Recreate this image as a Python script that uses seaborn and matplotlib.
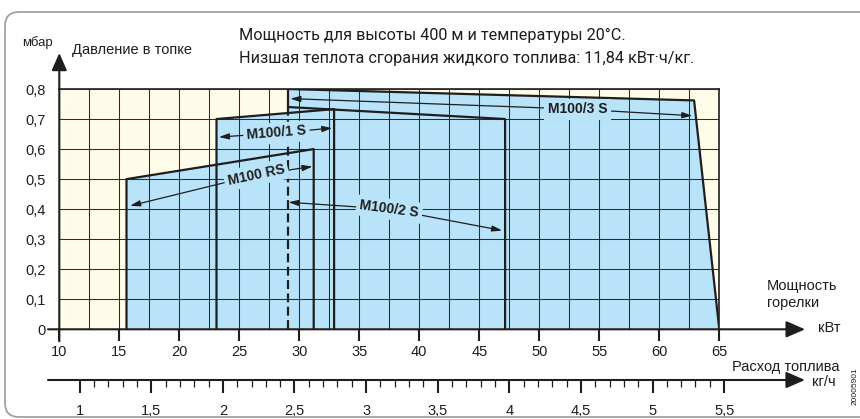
import numpy as np
import matplotlib
matplotlib.use("Agg")
import matplotlib.pyplot as plt
import seaborn as sns
from matplotlib.patches import FancyBboxPatch
from matplotlib.ticker import MultipleLocator

# ---------------- data ----------------
rs_x = [15.6, 15.6, 31.2, 31.2]
rs_y = [0.0, 0.50, 0.60, 0.0]
s1_x = [23.1, 23.1, 32.9, 32.9]
s1_y = [0.0, 0.70, 0.733, 0.0]
s2_x = [29.05, 29.05, 47.15, 47.15]
s2_y = [0.0, 0.74, 0.70, 0.0]
s3_x = [29.05, 29.05, 62.9, 65.0]
s3_y = [0.0, 0.80, 0.762, 0.0]

kw_ticks = [10, 15, 20, 25, 30, 35, 40, 45, 50, 55, 60, 65]
kw_labels = [str(v) for v in kw_ticks]
p_ticks = [0, 0.1, 0.2, 0.3, 0.4, 0.5, 0.6, 0.7, 0.8]
p_labels = ["0", "0,1", "0,2", "0,3", "0,4", "0,5", "0,6", "0,7", "0,8"]
fuel_ticks = [1, 1.5, 2, 2.5, 3, 3.5, 4, 4.5, 5, 5.5]
fuel_labels = ["1", "1,5", "2", "2,5", "3", "3,5", "4", "4,5", "5", "5,5"]
fuel_minor = [1.1, 1.2, 1.3, 1.4, 1.6, 1.7, 1.8, 1.9, 2.1, 2.2, 2.3, 2.4,
              2.6, 2.7, 2.8, 2.9, 3.1, 3.2, 3.3, 3.4, 3.6, 3.7, 3.8, 3.9,
              4.1, 4.2, 4.3, 4.4, 4.6, 4.7, 4.8, 4.9, 5.1, 5.2, 5.3, 5.4]

# series labels: (text, center, left tip, right tip, rotation)
labels = [
    ("M100/1 S", (28.1, 0.653), (23.3, 0.640), (32.75, 0.670), 4.5),
    ("M100 RS", (26.4, 0.514), (15.9, 0.411), (31.1, 0.542), 12),
    ("M100/2 S", (37.5, 0.400), (29.1, 0.423), (46.9, 0.329), -7.6),
    ("M100/3 S", (53.2, 0.733), (29.25, 0.768), (62.75, 0.711), 0),
]

# ---------------- style ----------------
sns.set_theme(style="white")
plt.rcParams["font.family"] = ["Liberation Sans", "DejaVu Sans"]

CREAM = "#FFFCE9"
BLUE = "#B9E3F8"
INK = "#1e1e1e"

W, H = 860, 419
fig = plt.figure(figsize=(8.6, 4.19), dpi=100)
fig.patch.set_facecolor("white")

x0, x1, yb, yt = 59.3, 719.3, 329.3, 89.0
ax = fig.add_axes([x0 / W, 1 - yb / H, (x1 - x0) / W, (yb - yt) / H])
ax.set_facecolor(CREAM)
ax.set_xlim(10, 65)
ax.set_ylim(0, 0.8)

# fills
for xs, ys in [(rs_x, rs_y), (s1_x, s1_y), (s2_x, s2_y), (s3_x, s3_y)]:
    ax.fill(xs, ys, color=BLUE, lw=0, zorder=1)

# grid
ax.xaxis.set_major_locator(MultipleLocator(5))
ax.xaxis.set_minor_locator(MultipleLocator(2.5))
ax.yaxis.set_major_locator(MultipleLocator(0.1))
ax.set_axisbelow(False)
ax.grid(True, which="both", color="#2b2b2b", lw=0.75)

# outlines
for xs, ys in [(rs_x, rs_y), (s1_x, s1_y)]:
    sns.lineplot(x=xs, y=ys, sort=False, estimator=None, color=INK, lw=1.6,
                 ax=ax, zorder=3)
for xs, ys in [(s2_x, s2_y), (s3_x, s3_y)]:
    sns.lineplot(x=xs[1:], y=ys[1:], sort=False, estimator=None, color=INK,
                 lw=1.6, ax=ax, zorder=3)
sns.lineplot(x=[s2_x[0], s2_x[1]], y=[0, s2_y[1]], sort=False, estimator=None,
             color=INK, lw=1.6, ls=(0, (4, 2)), ax=ax, zorder=3)
sns.lineplot(x=[s3_x[0], s3_x[1]], y=[s2_y[1], s3_y[1]], sort=False,
             estimator=None, color=INK, lw=1.6, ax=ax, zorder=3)

# series labels with arrows
for txt, c, lt, rt, rot in labels:
    for tip in (lt, rt):
        ax.annotate("", xy=tip, xytext=c,
                    arrowprops=dict(arrowstyle="-|>,head_length=6,head_width=1.8",
                                    mutation_scale=1, lw=0.9, color=INK,
                                    shrinkA=0, shrinkB=0), zorder=4)
    ax.text(c[0], c[1], txt, rotation=rot, rotation_mode="anchor",
            ha="center", va="center", fontsize=10, fontweight="bold",
            color=INK, zorder=5,
            bbox=dict(boxstyle="square,pad=0.25", fc=BLUE, ec="none"))

# spines / frame
for s in ["left", "bottom"]:
    ax.spines[s].set_visible(False)
for s in ["top", "right"]:
    ax.spines[s].set_visible(True)
    ax.spines[s].set_color(INK)
    ax.spines[s].set_linewidth(1.2)

# ticks
ax.set_xticks(kw_ticks, labels=kw_labels)
ax.set_yticks(p_ticks, labels=p_labels)
ax.tick_params(axis="x", which="major", direction="out", length=8.6, width=1.5,
               color=INK, labelsize=10.5, pad=3, labelcolor=INK, bottom=True)
ax.tick_params(axis="x", which="minor", length=0)
ax.tick_params(axis="y", which="both", length=0, labelsize=10.5, pad=10,
               labelcolor=INK)

# axis arrows
ax.annotate("", xy=(1.13, 0), xycoords="axes fraction",
            xytext=((48 - x0) / (x1 - x0), 0), textcoords="axes fraction",
            arrowprops=dict(arrowstyle="-|>,head_length=11.5,head_width=5",
                            mutation_scale=1, lw=1.5, color=INK,
                            shrinkA=0, shrinkB=0), annotation_clip=False, zorder=6)
ax.annotate("", xy=(0, (yb - 53) / (yb - yt)), xycoords="axes fraction",
            xytext=(0, -12 / (yb - yt)), textcoords="axes fraction",
            arrowprops=dict(arrowstyle="-|>,head_length=10.5,head_width=4.6",
                            mutation_scale=1, lw=1.5, color=INK,
                            shrinkA=0, shrinkB=0), annotation_clip=False, zorder=6)

# fuel axis
fy = 380
fxa, fxb = 48, 790
ax2 = fig.add_axes([fxa / W, 1 - fy / H, (fxb - fxa) / W, 0.0001])
ax2.set_facecolor("none")
ax2.set_xlim(0.779, 5.96)
for s in ax2.spines.values():
    s.set_visible(False)
ax2.set_yticks([])
ax2.set_xticks(fuel_ticks, labels=fuel_labels)
ax2.set_xticks(fuel_minor, minor=True)
ax2.tick_params(axis="x", which="major", direction="out", length=9.4, width=1.5,
                color=INK, labelsize=10.5, pad=8, labelcolor=INK, bottom=True)
ax2.tick_params(axis="x", which="minor", direction="out", length=5, width=0.9,
                color=INK, bottom=True)
ax2.annotate("", xy=((805 - fxa) / (fxb - fxa), 0), xycoords="axes fraction",
             xytext=(0, 0), textcoords="axes fraction",
             arrowprops=dict(arrowstyle="-|>,head_length=11.5,head_width=5",
                             mutation_scale=1, lw=1.5, color=INK,
                             shrinkA=0, shrinkB=0), annotation_clip=False)

# texts
def ftext(px, py, s, **kw):
    fig.text(px / W, 1 - py / H, s, **kw)

ftext(37, 43, "мбар", ha="center", va="center", fontsize=9.5, color=INK)
ftext(72, 50, "Давление в топке", ha="left", va="center", fontsize=10.5, color=INK)
ftext(239, 35, "Мощность для высоты 400 м и температуры 20°С.", ha="left",
      va="center", fontsize=11.7, color=INK, family=["Roboto", "DejaVu Sans"])
ftext(239, 58, "Низшая теплота сгорания жидкого топлива: 11,84 кВт·ч/кг.",
      ha="left", va="center", fontsize=11.7, color=INK,
      family=["Roboto", "DejaVu Sans"])
ftext(767, 286, "Мощность", ha="left", va="center", fontsize=10.5, color=INK)
ftext(767, 303, "горелки", ha="left", va="center", fontsize=10.5, color=INK)
ftext(818, 328, "кВт", ha="left", va="center", fontsize=10.5, color=INK)
ftext(839, 367, "Расход топлива", ha="right", va="center", fontsize=10.5, color=INK)
ftext(812, 382, "кг/ч", ha="left", va="center", fontsize=10.5, color=INK)
ftext(855, 386, "20005901", ha="center", va="center", fontsize=6,
      rotation=90, color=INK)

# rounded outer frame
frame = FancyBboxPatch((5, 2), 900, 405, boxstyle="round,pad=0,rounding_size=14",
                       transform=None, fc="none", ec="#9a9a9a", lw=1.2)
fig.add_artist(frame)

fig.savefig("out.png", dpi=100)
